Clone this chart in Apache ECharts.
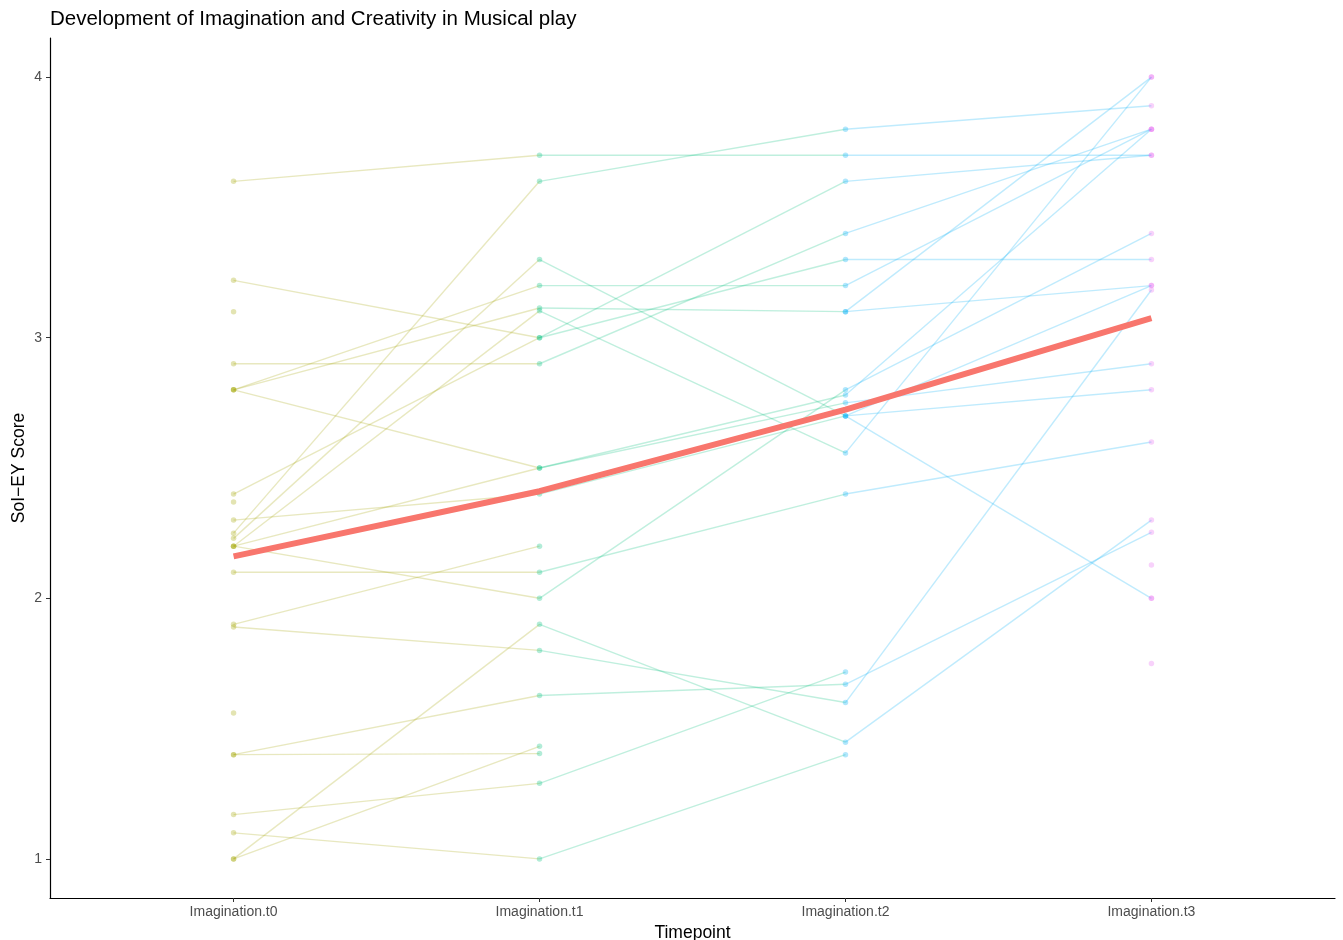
<!DOCTYPE html>
<html>
<head>
<meta charset="utf-8">
<script src="https://cdn.jsdelivr.net/npm/echarts@6/dist/echarts.min.js"></script>
<style>
  html, body { margin: 0; padding: 0; background: #fff; }
  #chart { width: 1343px; height: 940px; }
</style>
</head>
<body>
<div id="chart"></div>
<script>
// Timepoint labels on the x axis
const timepoints = ['Imagination.t0', 'Imagination.t1', 'Imagination.t2', 'Imagination.t3'];

// SoI-EY imagination scores, one entry per child (null = not assessed)
const scoreT0 = [3.6, 3.22, 2.9, 2.8, 2.8, 2.8, 2.4, 2.3, 2.25, 2.23, 2.2, 2.2, 2.2, 2.1, 1.9, 1.89, 1.4, 1.4, 1.17, 1.1, 1.0, 1.0, 3.1, 2.37, 1.56, null, null, null, null, null];
const scoreT1 = [3.7, 3.0, 2.9, 3.2, 3.114, 2.5, 3.0, 2.4, 3.6, 3.3, 3.103, 2.5, 2.0, 2.1, 2.2, 1.8, 1.627, 1.404, 1.29, 1.0, 1.9, 1.432, null, null, null, null, null, null, null, null];
const scoreT2 = [3.7, 3.6, 3.4, 3.2, 3.1, 2.78, 3.3, 2.7, 3.8, 2.7, 2.558, 2.75, 2.8, 2.4, null, 1.6, 1.67, null, 1.717, 1.4, 1.448, null, null, null, null, 3.1, 2.7, null, null, null];
const scoreT3 = [3.7, 3.7, 3.8, 3.8, 3.2, 3.8, 3.3, 2.8, 3.89, 2.0, 4.0, 2.9, 3.4, 2.6, null, 3.183, 2.253, null, null, null, 2.3, null, null, null, null, 4.0, 3.2, 2.128, 1.75, 2.0];

// Mean score per timepoint
const meanScore = [2.161, 2.411, 2.724, 3.075];

// Y axis tick values
const yTicks = [1, 2, 3, 4];

const pointColors = ['#A3A500', '#00BF7D', '#00B0F6', '#E76BF3'];
const meanColor = '#F8766D';

const columns = [scoreT0, scoreT1, scoreT2, scoreT3];
const series = [];

// Individual trajectories: each segment takes the colour of its starting timepoint
for (let k = 0; k < 3; k++) {
  const a = columns[k], b = columns[k + 1];
  for (let p = 0; p < a.length; p++) {
    if (a[p] == null || b[p] == null) continue;
    series.push({
      type: 'line',
      data: [[k, a[p]], [k + 1, b[p]]],
      symbol: 'none',
      silent: true,
      z: 2,
      lineStyle: { color: pointColors[k], width: 1.4, opacity: 0.25 },
      animation: false
    });
  }
}

// Observed scores as points
columns.forEach((col, k) => {
  series.push({
    type: 'scatter',
    data: col.filter(v => v != null).map(v => [k, v]),
    symbolSize: 5.5,
    silent: true,
    z: 3,
    itemStyle: { color: pointColors[k], opacity: 0.3 },
    animation: false
  });
});

// Mean trend
series.push({
  type: 'line',
  data: meanScore.map((v, k) => [k, v]),
  symbol: 'none',
  silent: true,
  z: 5,
  lineStyle: { color: meanColor, width: 6, cap: 'butt' },
  animation: false
});

const chart = echarts.init(document.getElementById('chart'), null, { renderer: 'canvas' });
const font = '"Liberation Sans", Arial, Helvetica, sans-serif';

chart.setOption({
  backgroundColor: '#ffffff',
  animation: false,
  title: {
    text: 'Development of Imagination and Creativity in Musical play',
    left: 50,
    top: 9,
    padding: 0,
    textStyle: { fontFamily: font, fontSize: 20.5, fontWeight: 'normal', color: '#000' }
  },
  grid: { left: 50, right: 8, top: 38, bottom: 42, containLabel: false, outerBoundsMode: 'none' },
  xAxis: {
    type: 'value',
    min: -0.6,
    max: 3.6,
    name: 'Timepoint',
    nameLocation: 'middle',
    nameGap: 24,
    nameTextStyle: { fontFamily: font, fontSize: 17.5, color: '#000' },
    axisLine: { onZero: false, lineStyle: { color: '#000', width: 1.2 } },
    axisTick: { customValues: [0, 1, 2, 3], length: 4, lineStyle: { color: '#333', width: 1 } },
    axisLabel: {
      customValues: [0, 1, 2, 3],
      formatter: v => timepoints[Math.round(v)],
      fontFamily: font, fontSize: 14, color: '#4D4D4D', margin: 7
    },
    splitLine: { show: false }
  },
  yAxis: {
    type: 'value',
    min: 0.85,
    max: 4.15,
    name: 'SoI\u2212EY Score',
    nameLocation: 'middle',
    nameRotate: 90,
    nameGap: 22,
    nameMoveOverlap: false,
    nameTextStyle: { fontFamily: font, fontSize: 17.5, color: '#000' },
    axisLine: { onZero: false, lineStyle: { color: '#000', width: 1.2 } },
    axisTick: { customValues: yTicks, length: 4, lineStyle: { color: '#333', width: 1 } },
    axisLabel: {
      customValues: yTicks,
      formatter: v => String(v),
      fontFamily: font, fontSize: 14, color: '#4D4D4D', margin: 8
    },
    splitLine: { show: false }
  },
  series: series
});
</script>
</body>
</html>
